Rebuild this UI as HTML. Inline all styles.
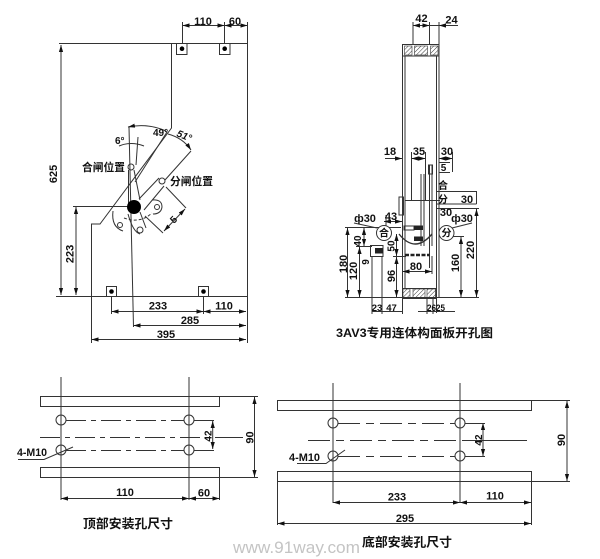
<!DOCTYPE html>
<html><head><meta charset="utf-8"><style>
html,body{margin:0;padding:0;background:#fff;width:600px;height:559px;overflow:hidden;}
svg{display:block;}
text{font-family:"Liberation Sans","Noto Sans CJK SC",sans-serif;font-weight:bold;fill:#111;}
</style></head><body>
<svg width="600" height="559" viewBox="0 0 600 559" xmlns="http://www.w3.org/2000/svg">
<defs>
<marker id="a" viewBox="0 0 10 10" refX="10" refY="5" markerWidth="7" markerHeight="7" markerUnits="userSpaceOnUse" orient="auto-start-reverse"><path d="M0,2L10,5L0,8z" fill="#111"/></marker>
<pattern id="h" patternUnits="userSpaceOnUse" width="3" height="3" patternTransform="rotate(45)"><line x1="0" y1="0" x2="0" y2="3" stroke="#222" stroke-width="0.9"/></pattern>
</defs>
<rect width="600" height="559" fill="#fff"/>

<!-- ================= TOP LEFT DRAWING ================= -->
<g stroke="#333" stroke-width="1" fill="none">
<path d="M59,43.5H248"/>
<path d="M247.5,22V343"/>
<path d="M182.5,22V43.5M224.5,22V43.5"/>
<path d="M171.5,43.5V128L100,224H91.5V343"/>
<path d="M56,296.5H247.5"/>
<rect x="176.5" y="43.5" width="10.5" height="11"/>
<rect x="219.5" y="43.5" width="10.5" height="11"/>
<rect x="106.5" y="286.5" width="10" height="10"/>
<rect x="198.5" y="286.5" width="10" height="10"/>
<path d="M111.5,297V314M203.5,297V314"/>
<path d="M73,206.5H134"/>
<path d="M129,127L133.5,327"/>
<path d="M138,137L136,165"/>
<path d="M119,146Q131,141 144,146"/>
<path d="M167,132L135,182"/>
<path d="M191,151L165,180"/>
<path d="M128.5,170V206"/>
<path d="M134,170L140,200"/>
<circle cx="131" cy="167" r="3"/>
<path d="M139,199L159,178M144,210L164,186"/>
<circle cx="162" cy="181" r="3"/>
<path d="M128,214Q133,232 140,234M140,212L146,228"/>
<circle cx="140" cy="230" r="3"/>
<circle cx="120" cy="225" r="2.5"/>
<path d="M113,211Q111,227 123,231"/>
<circle cx="157" cy="207" r="2.5"/>
<path d="M152,200Q162,199 162,207Q161,214 153,214"/>
<path d="M124,218Q140,224 152,213" stroke-dasharray="3,2"/>
<path d="M166,187L186,208M145,216L163,233"/>
<path d="M166,131Q148,123 128,127" marker-end="url(#a)"/>
<path d="M168,134Q183,138 191,150" marker-end="url(#a)"/>
</g>
<circle cx="134" cy="207" r="7" fill="#000"/>
<g fill="#000">
<circle cx="182" cy="48.7" r="2.3"/>
<circle cx="224.7" cy="48.7" r="2.3"/>
<circle cx="111.5" cy="291.5" r="2.3"/>
<circle cx="203.5" cy="291.5" r="2.3"/>
</g>
<g stroke="#333" stroke-width="1" fill="none" marker-start="url(#a)" marker-end="url(#a)">
<path d="M182.5,25.5H224.5"/>
<path d="M224.5,25.5H247.5"/>
<path d="M61,45V295"/>
<path d="M76,207V295"/>
<path d="M111.5,311.5H203.5"/>
<path d="M203.5,311.5H246"/>
<path d="M133.5,325.5H246"/>
<path d="M91.5,339.5H246"/>
<path d="M185,209L164,231"/>
</g>
<g font-size="11" text-anchor="middle">
<text x="203" y="25">110</text>
<text x="235" y="25">60</text>
<text transform="translate(57,174) rotate(-90)">625</text>
<text transform="translate(73.5,254) rotate(-90)">223</text>
<text x="158" y="309.5">233</text>
<text x="224" y="309.5">110</text>
<text x="190" y="324">285</text>
<text x="166" y="338">395</text>
</g>
<text x="82" y="171" font-size="11" textLength="43" lengthAdjust="spacingAndGlyphs">合闸位置</text>
<text x="170" y="185" font-size="11" textLength="43" lengthAdjust="spacingAndGlyphs">分闸位置</text>
<text x="115" y="144" font-size="10">6°</text>
<text x="153" y="136" font-size="10">49°</text>
<text transform="translate(176,136) rotate(22)" font-size="10" font-style="italic">51°</text>
<text transform="translate(176,222) rotate(-45)" font-size="10" text-anchor="middle">5</text>

<!-- ================= TOP RIGHT DRAWING ================= -->
<g stroke="#333" stroke-width="1" fill="none">
<!-- outline -->
<path d="M402.5,44V298"/>
<path d="M405,56V288"/>
<path d="M436.5,56V313"/>
<path d="M439,44V298"/>
<rect x="402.5" y="44.5" width="36.5" height="11.5"/>
<rect x="404.5" y="46" width="7.5" height="9" fill="url(#h)" stroke-width="0.6"/>
<rect x="414.5" y="46" width="13" height="9" fill="url(#h)" stroke-width="0.6"/>
<rect x="430.5" y="46" width="7.5" height="9" fill="url(#h)" stroke-width="0.6"/>
<rect x="402.5" y="288.5" width="33.5" height="10"/>
<rect x="403" y="289" width="7" height="9" fill="url(#h)" stroke-width="0.6"/>
<rect x="413" y="289" width="12" height="9" fill="url(#h)" stroke-width="0.6"/>
<rect x="427" y="289" width="8.5" height="9" fill="url(#h)" stroke-width="0.6"/>
<!-- top ext -->
<path d="M413,22V44M429.5,22V44M439,22V44"/>
<path d="M429.5,25.5H439"/>
<!-- inner -->
<path d="M411.5,152V201M425.5,152V201"/>
<path d="M452.5,152V172"/>
<path d="M439,162.5H450M439,172.5H450"/>
<path d="M405,200.5H440"/>
<rect x="399" y="197" width="4.5" height="18"/>
<path d="M421,174V246M424,174V246"/>
<path d="M429.5,165V268M432,165V246"/>
<rect x="428.5" y="165" width="4" height="9"/>
<rect x="404" y="226" width="10" height="4"/>
<path d="M437,191.5H476.5M437,204H476.5M476.5,191V204"/>
<path d="M437,208.5H479"/>
<path d="M399,234Q415,254 432,234" stroke-width="1.4"/>
<!-- left side -->
<path d="M345,227.5H401"/>
<path d="M356,246.5H372"/>
<rect x="370.5" y="245.5" width="12.5" height="11"/>
<path d="M372,257V314M382,257V314"/>
<path d="M393,256.5H406"/>
<path d="M386,215V226"/>
<path d="M432,256V274"/>
<path d="M345,297.5H479"/>
<path d="M402.5,298V314M427,298V314M433,298V314"/>
<path d="M372,311.5H402M418,311.5H455"/>
<path d="M453,236.5H464"/>
<path d="M354,223L377,228"/>
<path d="M472,223L452,228"/>
</g>
<rect x="375" y="248" width="8" height="5.5" fill="#222"/>
<rect x="414" y="225.5" width="9" height="4.5" fill="#222"/>
<rect x="414" y="236.5" width="9" height="4.5" fill="#222"/>
<path d="M405,255H430" stroke="#222" stroke-width="2.4" stroke-dasharray="4,1.5"/>
<circle cx="384" cy="233" r="7.5" fill="#fff" stroke="#333"/>
<circle cx="446.5" cy="233" r="7.5" fill="#fff" stroke="#333"/>
<g stroke="#333" stroke-width="1" fill="none" marker-start="url(#a)" marker-end="url(#a)">
<path d="M413,25.5H429.5"/>
<path d="M411.5,158.5H425.5"/>
<path d="M439,158.5H452.5"/>
<path d="M384,221.5H402"/>
<path d="M347.5,228V297"/>
<path d="M359.5,247V297"/>
<path d="M364,228V246"/>
<path d="M396.5,234V256"/>
<path d="M396.5,257V297"/>
<path d="M402.5,271.5H432"/>
<path d="M461,237V297"/>
<path d="M476.5,209V297"/>
</g>
<g stroke="#333" stroke-width="1" fill="none">
<path d="M458,25.5H439" marker-end="url(#a)"/>
<path d="M385,158.5H402" marker-end="url(#a)"/>
</g>
<g font-size="11" text-anchor="middle">
<text x="421.5" y="22">42</text>
<text x="451.5" y="23.5">24</text>
<text x="390" y="155">18</text>
<text x="419" y="155">35</text>
<text x="447" y="155">30</text>
<text x="443.5" y="171" font-size="10">5</text>
<text x="443" y="189" font-size="10">合</text>
<text x="443" y="203" font-size="10">分</text>
<text x="467" y="203">30</text>
<text x="446" y="216">30</text>
<text x="365" y="222">ф30</text>
<text x="391" y="220">43</text>
<text x="462" y="222">ф30</text>
<text x="384" y="236.5" font-size="10">合</text>
<text x="446.5" y="236.5" font-size="10">分</text>
<text transform="translate(347,264) rotate(-90)">180</text>
<text transform="translate(357,271) rotate(-90)">120</text>
<text transform="translate(361,241) rotate(-90)" font-size="10">40</text>
<text transform="translate(369,262) rotate(-90)" font-size="10">9</text>
<text transform="translate(394.5,246) rotate(-90)" font-size="10">50</text>
<text transform="translate(395,276) rotate(-90)">96</text>
<text x="416" y="270">80</text>
<text transform="translate(459,263) rotate(-90)">160</text>
<text transform="translate(474,250) rotate(-90)">220</text>
<text x="377" y="311" font-size="9.5">23</text>
<text x="391.5" y="311" font-size="9.5">47</text>
<text x="436" y="311" font-size="9.5" textLength="18" lengthAdjust="spacingAndGlyphs">2625</text>
</g>
<text x="414.5" y="337" font-size="12" text-anchor="middle" textLength="157" lengthAdjust="spacingAndGlyphs">3AV3专用连体构面板开孔图</text>

<!-- ================= BOTTOM LEFT DRAWING ================= -->
<g stroke="#333" stroke-width="1" fill="none">
<rect x="40.5" y="396.5" width="179" height="10"/>
<rect x="40.5" y="467.5" width="179" height="10"/>
<path d="M61,377V500M189,377V500"/>
<circle cx="61" cy="420" r="5"/>
<circle cx="61" cy="450" r="5"/>
<circle cx="189" cy="420" r="5"/>
<circle cx="189" cy="450" r="5"/>
<path d="M66,420.5H184M194,420.5H215" stroke-dasharray="20,5,5,5"/>
<path d="M66,450.5H184M194,450.5H215" stroke-dasharray="20,5,5,5"/>
<path d="M40,437.5H215" stroke-dasharray="20,5,5,5"/>
<path d="M215,437.5H243"/>
<path d="M219.5,396.5H258M219.5,477.5H258"/>
<path d="M219.5,478V500"/>
<path d="M18,459.5H44L73,447"/>
</g>
<g stroke="#333" stroke-width="1" fill="none" marker-start="url(#a)" marker-end="url(#a)">
<path d="M212.7,421V449"/>
<path d="M254.5,397V477"/>
<path d="M61,498.5H189"/>
<path d="M189,498.5H219.5"/>
</g>
<g font-size="11" text-anchor="middle">
<text transform="translate(211.5,436) rotate(-90)" font-size="10">42</text>
<text transform="translate(253.5,437.5) rotate(-90)">90</text>
<text x="125" y="496">110</text>
<text x="204" y="496.5">60</text>
</g>
<text x="17" y="456" font-size="11" textLength="30" lengthAdjust="spacingAndGlyphs">4-M10</text>
<text x="83" y="528" font-size="12.5" textLength="90" lengthAdjust="spacingAndGlyphs">顶部安装孔尺寸</text>

<!-- ================= BOTTOM RIGHT DRAWING ================= -->
<g stroke="#333" stroke-width="1" fill="none">
<rect x="277.5" y="400.5" width="254" height="10"/>
<rect x="277.5" y="471.5" width="254" height="10"/>
<path d="M333,383V503M460,383V503"/>
<circle cx="333" cy="423" r="5"/>
<circle cx="333" cy="456" r="5"/>
<circle cx="460" cy="423" r="5"/>
<circle cx="460" cy="456" r="5"/>
<path d="M338,423.5H455M465,423.5H485" stroke-dasharray="22,6,8,6"/>
<path d="M338,456.5H455M465,456.5H485" stroke-dasharray="22,6,8,6"/>
<path d="M308,440.5H470" stroke-dasharray="22,6,8,6"/>
<path d="M470,440.5H527"/>
<path d="M531.5,400.5H570M531.5,481.5H570"/>
<path d="M277.5,482V525M531.5,482V525"/>
<path d="M297,463.5H326L345,450"/>
</g>
<g stroke="#333" stroke-width="1" fill="none" marker-start="url(#a)" marker-end="url(#a)">
<path d="M483,423V456"/>
<path d="M567,401V481"/>
<path d="M333,502.5H460"/>
<path d="M460,502.5H531"/>
<path d="M277.5,523.5H531"/>
</g>
<g font-size="11" text-anchor="middle">
<text transform="translate(482,440) rotate(-90)" font-size="10">42</text>
<text transform="translate(565,440) rotate(-90)">90</text>
<text x="397" y="500.5">233</text>
<text x="495" y="499.5">110</text>
<text x="405" y="522">295</text>
</g>
<text x="289" y="461" font-size="11" textLength="31" lengthAdjust="spacingAndGlyphs">4-M10</text>
<text x="233" y="553" font-size="17" font-weight="normal" style="font-weight:normal;fill:#c4c4c4" textLength="127" lengthAdjust="spacingAndGlyphs">www.91way.com</text>
<text x="362" y="546.5" font-size="12.5" textLength="90" lengthAdjust="spacingAndGlyphs">底部安装孔尺寸</text>
</svg>
</body></html>
